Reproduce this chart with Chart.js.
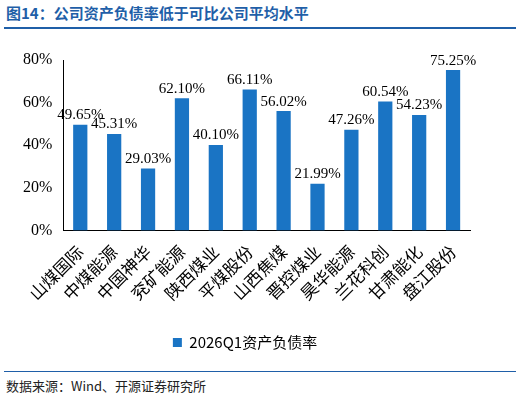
<!DOCTYPE html>
<html><head><meta charset="utf-8">
<script src="https://cdn.jsdelivr.net/npm/chart.js@4"></script>
<style>
body{margin:0;width:520px;height:405px;background:#fff;font-family:"Noto Sans CJK SC",sans-serif;position:relative;overflow:hidden}
#title{position:absolute;left:6px;top:2px;font-size:15px;font-weight:bold;color:#1f5fa8}
#tline{position:absolute;left:4px;right:4px;top:27px;border-top:2px solid #1f5fa8}
#wrap{position:absolute;left:0;top:38px;width:520px;height:330px}
#fline{position:absolute;left:4px;right:4px;top:371px;border-top:1px solid #1f5fa8}
#foot{position:absolute;left:6px;top:376px;font-size:13px;color:#222}
</style></head><body>
<div id="title">图14：公司资产负债率低于可比公司平均水平</div>
<div id="tline"></div>
<div id="wrap"><canvas id="c"></canvas></div>
<div id="fline"></div>
<div id="foot">数据来源：Wind、开源证券研究所</div>
<script>
const companies = ['山煤国际','中煤能源','中国神华','兖矿能源','陕西煤业','平煤股份','山西焦煤','晋控煤业','昊华能源','兰花科创','甘肃能化','盘江股份'];
const debtRatio = [49.65,45.31,29.03,62.10,40.10,66.11,56.02,21.99,47.26,60.54,54.23,75.25];
const yTicks = [0,10,20,30,40,50,60,70,80];

const labelPlugin = {
  id: 'barLabels',
  afterDatasetsDraw(chart) {
    const ctx = chart.ctx;
    const meta = chart.getDatasetMeta(0);
    ctx.save();
    ctx.font = '15px "Liberation Serif", serif';
    ctx.fillStyle = '#000';
    ctx.textAlign = 'center';
    ctx.textBaseline = 'bottom';
    meta.data.forEach((bar, i) => {
      ctx.fillText(debtRatio[i].toFixed(2) + '%', bar.x, bar.y - 2);
    });
    ctx.restore();
  }
};

new Chart(document.getElementById('c'), {
  type: 'bar',
  data: {
    labels: companies,
    datasets: [{
      label: '2026Q1资产负债率',
      data: debtRatio,
      backgroundColor: '#1a74c4',
      barPercentage: 0.42,
      categoryPercentage: 1
    }]
  },
  options: {
    responsive: true,
    maintainAspectRatio: false,
    animation: false,
    layout: { padding: { left: 20, right: 50, top: 22, bottom: 8 } },
    plugins: {
      legend: {
        position: 'bottom',
        labels: { boxWidth: 9, boxHeight: 9, padding: 28, color: '#000', font: { size: 15, family: '"Noto Sans CJK SC"' } }
      },
      tooltip: { enabled: false }
    },
    scales: {
      x: {
        grid: { display: false },
        border: { color: '#000' },
        ticks: { minRotation: 45, maxRotation: 45, color: '#000', font: { size: 17, family: '"Noto Sans CJK SC"' } }
      },
      y: {
        min: 0, max: 80,
        afterBuildTicks(axis) { axis.ticks = yTicks.map(v => ({ value: v })); },
        grid: { display: false },
        border: { color: '#000' },
        ticks: { color: '#000', font: { size: 16, family: '"Liberation Serif"' }, callback: v => v + '%' }
      }
    }
  },
  plugins: [labelPlugin]
});
</script>
</body></html>
